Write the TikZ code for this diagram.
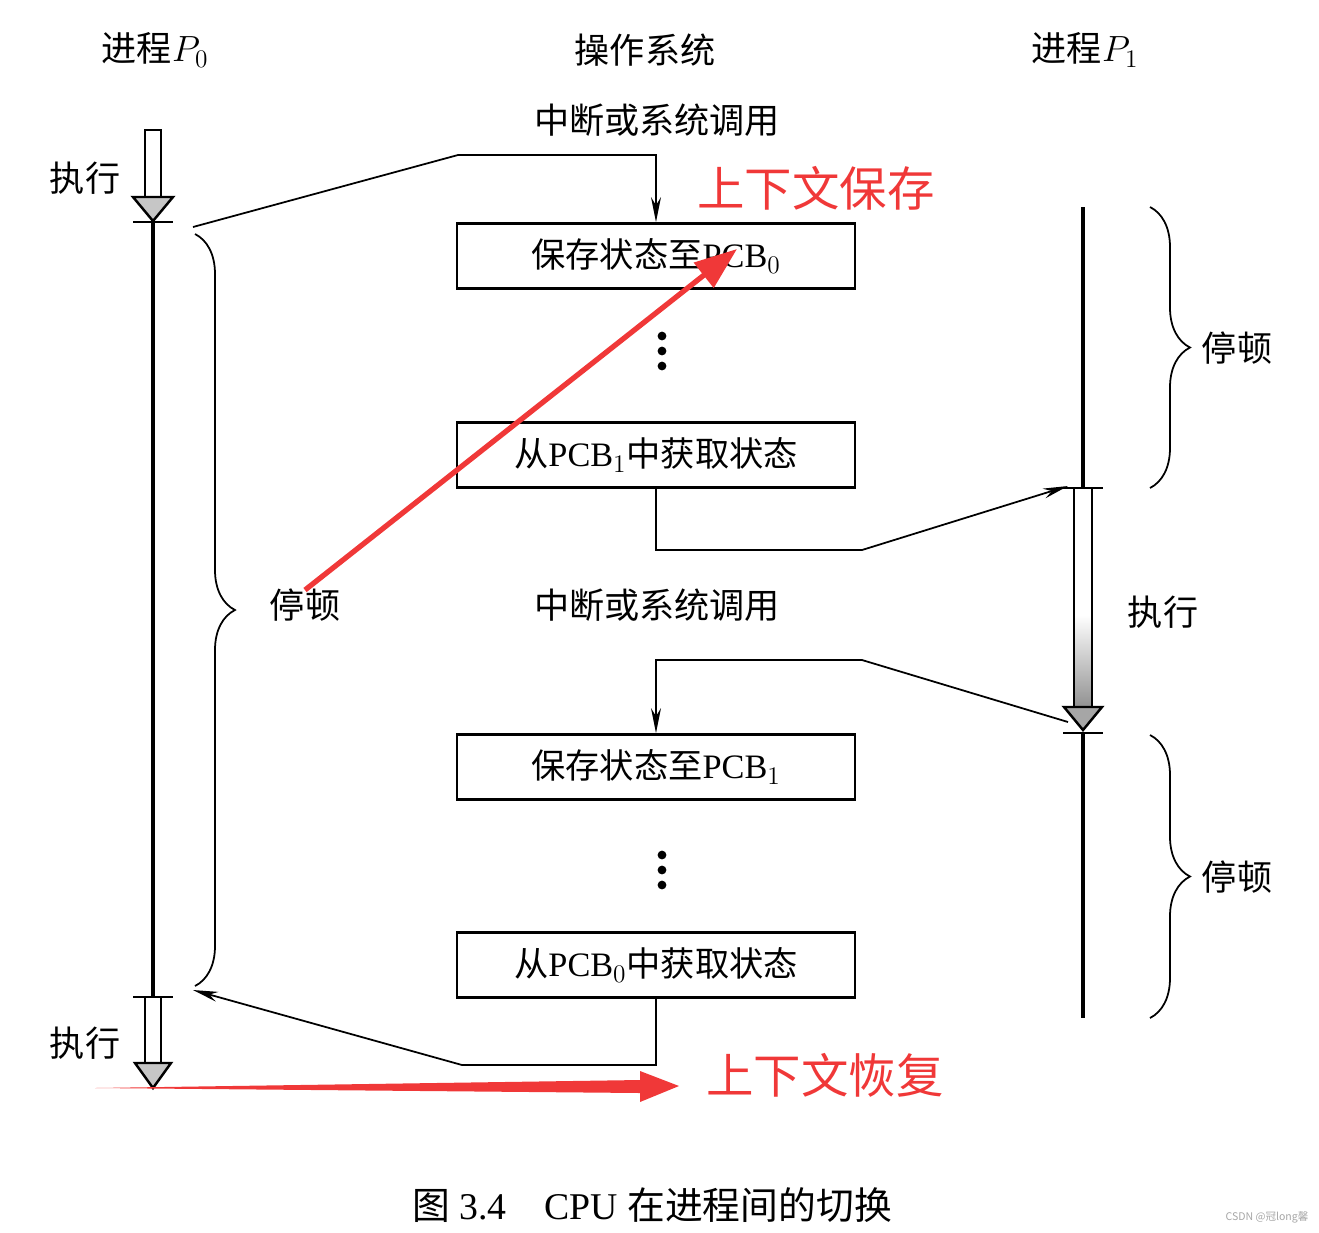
\documentclass[tikz,border=0pt]{standalone}
\usepackage{fontspec}
\setmainfont{Liberation Serif}
\newfontfamily\cjk{Noto Sans CJK SC}
\usetikzlibrary{arrows.meta,decorations.pathreplacing}
\definecolor{annotred}{RGB}{240,56,56}
\newcommand{\zh}[1]{{\cjk #1}}
\begin{document}
\begin{tikzpicture}[x=0.02cm,y=-0.02cm,pcbbox/.style={draw,line width=1.6pt,minimum width=7.96cm,minimum height=1.3cm,inner sep=0pt,font=\fontsize{19.5}{22}\selectfont},lbl/.style={font=\fontsize{20}{22}\selectfont\cjk},note/.style={font=\fontsize{27}{30}\selectfont\cjk,text=annotred},tline/.style={line width=2.8pt},tick/.style={line width=1.2pt},link/.style={line width=1pt,-{Stealth[length=5mm,width=2mm]}},plain/.style={line width=1pt},hollow/.style={draw,line width=1.4pt,fill=white},head/.style={draw,line width=1.4pt,fill=gray!45},stall/.style={line width=1pt,decorate,decoration={brace,amplitude=0.8cm}},dot/.style={circle,fill,inner sep=0pt,minimum size=5pt}]
\useasboundingbox (0,0) rectangle (1319,1232);
% headings
\node[lbl] (hP0) at (155,50) {进程$P_0$};
\node[lbl] (hOS) at (645,50) {操作系统};
\node[lbl] (hP1) at (1085,50) {进程$P_1$};
% operating system column
\node[lbl] (callA) at (657,120) {中断或系统调用};
\node[pcbbox] (saveP0) at (656,256) {\zh{保存状态至}PCB$_0$};
\node[dot] (dA1) at (662,336) {};
\node[dot] (dA2) at (662,351) {};
\node[dot] (dA3) at (662,366) {};
\node[pcbbox] (loadP1) at (656,455) {\zh{从}PCB$_1$\zh{中获取状态}};
\node[lbl] (callB) at (657,605) {中断或系统调用};
\node[pcbbox] (saveP1) at (656,767) {\zh{保存状态至}PCB$_1$};
\node[dot] (dB1) at (662,855) {};
\node[dot] (dB2) at (662,870) {};
\node[dot] (dB3) at (662,885) {};
\node[pcbbox] (loadP0) at (656,965) {\zh{从}PCB$_0$\zh{中获取状态}};
% process P0
\coordinate (p0a) at (153,222);
\coordinate (p0b) at (153,997);
\draw[hollow] (145,130) rectangle (161,197);
\draw[head] (133,197) -- (153,221) -- (173,197) -- cycle;
\draw[tline] (p0a) -- (p0b);
\draw[tick] (133,222) -- (173,222);
\draw[tick] (133,997) -- (173,997);
\draw[hollow] (145,997) rectangle (161,1063);
\draw[head] (135,1063) -- (153,1088) -- (171,1063) -- cycle;
\node[lbl] (runP0a) at (85,178) {执行};
\node[lbl] (runP0b) at (85,1043) {执行};
\draw[stall] (195,234) -- (195,986);
\node[lbl] (stopP0) at (305,605) {停顿};
% process P1
\coordinate (p1a) at (1083,488);
\coordinate (p1b) at (1083,733);
\draw[tline] (1083,207) -- (p1a);
\draw[tick] (1063,488) -- (1103,488);
\draw[hollow] (1074,488) rectangle (1092,707);
\shade[top color=white,bottom color=gray!85] (1075,615) rectangle (1091,706);
\draw[line width=1.4pt] (1074,488) rectangle (1092,707);
\draw[head,fill=gray!70] (1064,707) -- (1083,730) -- (1102,707) -- cycle;
\draw[tick] (1063,733) -- (1103,733);
\draw[tline] (p1b) -- (1083,1018);
\node[lbl] (runP1) at (1163,612) {执行};
\draw[stall] (1150,207) -- (1150,488);
\node[lbl] (stopP1a) at (1237,348) {停顿};
\draw[stall] (1150,735) -- (1150,1018);
\node[lbl] (stopP1b) at (1237,877) {停顿};
% switching links
\coordinate (outA) at (193,227);
\coordinate (kA) at (458,155);
\draw[link] (outA) -- (kA) -| (saveP0.north);
\coordinate (kB) at (862,550);
\coordinate (inB) at (1068,486);
\draw[link] (loadP1.south) |- (kB) -- (inB);
\coordinate (outB) at (1068,722);
\coordinate (kC) at (862,660);
\draw[link] (outB) -- (kC) -| (saveP1.north);
\coordinate (kD) at (462,1065);
\coordinate (inA) at (193,990);
\draw[link] (loadP0.south) |- (kD) -- (inA);
% red notes
\node[note] (saveNote) at (816,188) {上下文保存};
\coordinate (rA) at (305,590);
\coordinate (rB) at (737,249);
\draw[annotred,line width=3pt,-{Triangle[length=0.85cm,width=0.62cm]}] (rA) -- (rB);
\node[note] (loadNote) at (825,1075) {上下文恢复};
\fill[annotred] (95,1088) -- (640,1080) -- (640,1071) -- (679,1086) -- (640,1102) -- (640,1093) -- cycle;
% caption
\node[font=\fontsize{21.5}{24}\selectfont] (cap) at (652,1205) {\zh{图} 3.4\quad CPU \zh{在进程间的切换}};
\node[font=\fontsize{6}{7}\selectfont\cjk,text=gray!70] (mark) at (1267,1217) {CSDN @冠long馨};
\end{tikzpicture}
\end{document}
